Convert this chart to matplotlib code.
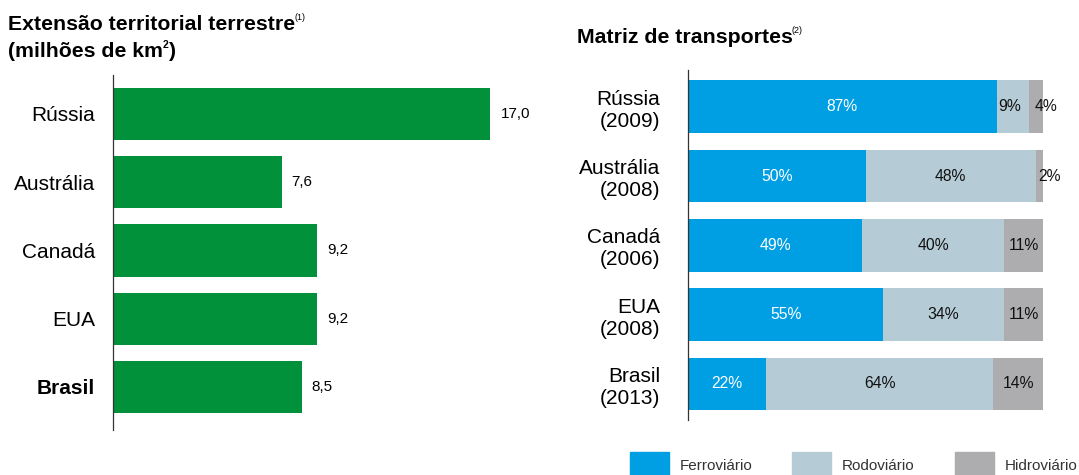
import numpy as np
import matplotlib.pyplot as plt
from matplotlib.patches import Rectangle

plt.rcParams['font.family'] = ['Liberation Sans', 'DejaVu Sans']

# left panel: land area
countries = ["Rússia", "Austrália", "Canadá", "EUA", "Brasil"]
area = [17.0, 7.6, 9.2, 9.2, 8.5]

# right panel: transport matrix
matrix_labels = ["Rússia\n(2009)", "Austrália\n(2008)", "Canadá\n(2006)",
                 "EUA\n(2008)", "Brasil\n(2013)"]
ferro = [87, 50, 49, 55, 22]
rodo = [9, 48, 40, 34, 64]
hidro = [4, 2, 11, 11, 14]
modes = ["Ferroviário", "Rodoviário", "Hidroviário"]

GREEN = "#00913A"
BLUE = "#009FE3"
LIGHT = "#B5CCD7"
GRAY = "#ADADAF"

W, H = 1079, 475
fig = plt.figure(figsize=(W / 100, H / 100), dpi=100)


def px_axes(x0, y0, x1, y1):
    return fig.add_axes([x0 / W, 1 - y1 / H, (x1 - x0) / W, (y1 - y0) / H])


# ---- left chart
ax1 = px_axes(113, 75, 557, 430)
y = np.arange(len(countries))
ax1.barh(y, area, height=0.765, color=GREEN)
ax1.set_xlim(0, 20)
ax1.set_ylim(4.63, -0.57)
for yi, v in zip(y, area):
    ax1.text(v + 0.45, yi, f"{v:.1f}".replace(".", ","), va="center",
             ha="left", fontsize=11)
ax1.set_yticks(y)
ax1.set_yticklabels(countries, fontsize=15)
ax1.get_yticklabels()[-1].set_fontweight("bold")
ax1.tick_params(axis="y", length=0, pad=13)
ax1.set_xticks([])
for s in ["top", "right", "bottom"]:
    ax1.spines[s].set_visible(False)
ax1.spines["left"].set_color("#333333")
ax1.spines["left"].set_linewidth(0.9)

# ---- right chart
ax2 = px_axes(688, 70, 1043, 420)
y2 = np.arange(len(matrix_labels))
h = 0.76
ax2.barh(y2, ferro, height=h, color=BLUE)
ax2.barh(y2, rodo, left=ferro, height=h, color=LIGHT)
left3 = [a + b for a, b in zip(ferro, rodo)]
ax2.barh(y2, hidro, left=left3, height=h, color=GRAY)
ax2.set_xlim(0, 100)
ax2.set_ylim(4.52, -0.53)
for yi, f, r, hd in zip(y2, ferro, rodo, hidro):
    ax2.text(f / 2, yi, f"{f}%", ha="center", va="center", color="white", fontsize=11.3)
    # narrow segments: label nudged a bit to the right, as in the source
    r_shift = -0.8 if r < 10 else 0
    h_shift = 2.8 if hd < 5 else 0
    ax2.text(f + r / 2 + r_shift, yi, f"{r}%", ha="center", va="center",
             color="#111111", fontsize=11.3)
    ax2.text(f + r + hd / 2 + h_shift, yi, f"{hd}%", ha="center", va="center",
             color="#111111", fontsize=11.3, clip_on=False)
ax2.set_yticks(y2)
ax2.set_yticklabels(matrix_labels, fontsize=15, ha="right", multialignment="right")
ax2.tick_params(axis="y", length=0, pad=20)
ax2.set_xticks([])
for s in ["top", "right", "bottom"]:
    ax2.spines[s].set_visible(False)
ax2.spines["left"].set_color("#333333")
ax2.spines["left"].set_linewidth(0.9)

# ---- titles with superscripts
renderer = fig.canvas.get_renderer()


def title_with_note(x, y, text, note):
    t = fig.text(x / W, 1 - y / H, text, fontsize=15.3, fontweight="bold",
                 ha="left", va="baseline")
    bb = t.get_window_extent(renderer)
    fig.text((bb.x1 - 1) / W, 1 - (y - 10) / H, note, fontsize=6.5,
             ha="left", va="baseline")


title_with_note(8, 30, "Extensão territorial terrestre", "(1)")
t2 = fig.text(8 / W, 1 - 57 / H, "(milhões de km", fontsize=15.3, fontweight="bold",
              ha="left", va="baseline")
bb = t2.get_window_extent(renderer)
sup = fig.text(bb.x1 / W, 1 - 48 / H, "2", fontsize=7.5, fontweight="bold",
               ha="left", va="baseline")
bb2 = sup.get_window_extent(renderer)
fig.text(bb2.x1 / W, 1 - 57 / H, ")", fontsize=15.3, fontweight="bold",
         ha="left", va="baseline")
title_with_note(577, 43, "Matriz de transportes", "(2)")

# ---- legend
leg_x = [630, 792, 955]
leg_colors = [BLUE, LIGHT, GRAY]
for x, c, lab in zip(leg_x, leg_colors, modes):
    fig.patches.append(Rectangle((x / W, 0), 39 / W, 23 / H, transform=fig.transFigure,
                                 color=c, figure=fig))
    fig.text((x + 50) / W, 1 - 466 / H, lab, fontsize=11, ha="left", va="center",
             color="#333333")

fig.savefig("out.png", dpi=100)
